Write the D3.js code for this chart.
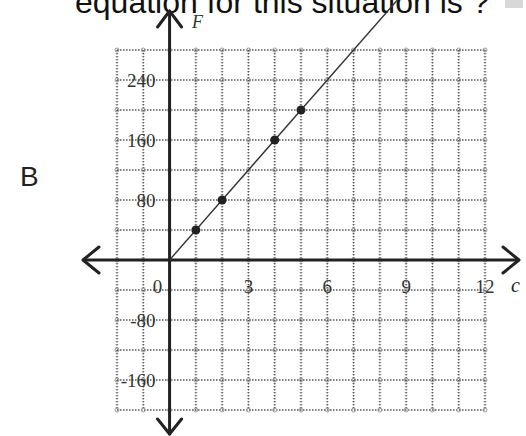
<!DOCTYPE html>
<html>
<head>
<meta charset="utf-8">
<script src="https://cdn.jsdelivr.net/npm/d3@7"></script>
<style>
  html, body { margin: 0; padding: 0; background: #fff; }
  svg { display: block; }
</style>
</head>
<body>
<script>
// Horizontal axis: c, vertical axis: F
const cTickLabels = [0, 3, 6, 9, 12];
const fTickLabels = [240, 160, 80, -80, -160];
const pointC = [1, 2, 4, 5];
const pointF = [40, 80, 160, 200];
const lineC = [0, 9];
const lineF = [0, 360];
const cGrid = d3.range(-2, 13, 1);
const fGrid = d3.range(-200, 281, 40);

const W = 526, H = 436;
const svg = d3.select("body").append("svg").attr("width", W).attr("height", H);

const x = d3.scaleLinear().domain([-2, 12]).range([117, 485]);
const y = d3.scaleLinear().domain([-200, 280]).range([410, 50]);

// heading text, cut at the top edge
svg.append("text")
  .attr("x", 75).attr("y", 13)
  .attr("font-family", "Liberation Sans, Arial, sans-serif")
  .attr("font-size", 32).attr("fill", "#111")
  .text("equation for this situation is ?");
svg.append("rect").attr("x", 505).attr("y", 0).attr("width", 18).attr("height", 8).attr("fill", "#d8d8d8");

// option letter
svg.append("text").attr("x", 20).attr("y", 186)
  .attr("font-family", "Liberation Sans, Arial, sans-serif")
  .attr("font-size", 28).attr("fill", "#222").text("B");

// grid
const grid = svg.append("g");
const x0 = x.range()[0], x1 = x.range()[1], y0 = y.range()[1], y1 = y.range()[0];
grid.selectAll("line.v").data(cGrid).join("line")
  .attr("x1", d => x(d)).attr("x2", d => x(d)).attr("y1", y0).attr("y2", y1)
  .attr("stroke", "#c4c4c4").attr("stroke-width", 3).attr("stroke-dasharray", "1 2");
grid.selectAll("line.vc").data(cGrid).join("line")
  .attr("x1", d => x(d)).attr("x2", d => x(d)).attr("y1", y0).attr("y2", y1)
  .attr("stroke", "#555").attr("stroke-width", 1.2).attr("stroke-dasharray", "1.5 1.5");
grid.selectAll("line.h").data(fGrid).join("line")
  .attr("y1", d => y(d)).attr("y2", d => y(d)).attr("x1", x0).attr("x2", x1)
  .attr("stroke", "#555").attr("stroke-width", 1.4).attr("stroke-dasharray", "1.5 1.5");
const nodes = [];
cGrid.forEach(c => fGrid.forEach(f => nodes.push([c, f])));
grid.selectAll("circle").data(nodes).join("circle")
  .attr("cx", d => x(d[0])).attr("cy", d => y(d[1])).attr("r", 2)
  .attr("fill", "none").attr("stroke", "#999").attr("stroke-width", 1);

// axes with arrowheads
const axisG = svg.append("g").attr("stroke", "#222").attr("stroke-width", 3)
  .attr("fill", "none").attr("stroke-linecap", "round").attr("stroke-linejoin", "round");
const ax0 = x(0), ay0 = y(0);
axisG.append("line").attr("x1", 84).attr("x2", 518).attr("y1", ay0).attr("y2", ay0);
axisG.append("line").attr("x1", ax0).attr("x2", ax0).attr("y1", 11).attr("y2", 434);
axisG.append("polyline").attr("points", `${503},${ay0 - 13} ${519},${ay0} ${503},${ay0 + 13}`);
axisG.append("polyline").attr("points", `${99},${ay0 - 13} ${83},${ay0} ${99},${ay0 + 13}`);
axisG.append("polyline").attr("points", `${ax0 - 12},${27} ${ax0},${11} ${ax0 + 12},${27}`);
axisG.append("polyline").attr("points", `${ax0 - 12},${419} ${ax0},${434} ${ax0 + 12},${419}`);

// tick labels
const lab = svg.append("g").attr("font-family", "Liberation Serif, Times New Roman, serif")
  .attr("font-size", 19).attr("fill", "#333");
lab.selectAll("text.x").data(cTickLabels).join("text")
  .attr("x", d => d === 0 ? ax0 - 12 : x(d)).attr("y", 293)
  .attr("text-anchor", "middle").text(d => d);
lab.selectAll("text.y").data(fTickLabels).join("text")
  .attr("x", ax0 - 14).attr("y", d => y(d) + 6.5)
  .attr("text-anchor", "end").text(d => d < 0 ? "-" + Math.abs(d) : d);

// axis names
svg.append("text").attr("x", 511).attr("y", 292)
  .attr("font-family", "Liberation Serif, serif").attr("font-style", "italic")
  .attr("font-size", 20).attr("fill", "#222").text("c");
svg.append("text").attr("x", 192).attr("y", 28)
  .attr("font-family", "Liberation Serif, serif").attr("font-style", "italic")
  .attr("font-size", 18).attr("fill", "#333").text("F");

// relation line and points
const lineData = lineC.map((c, i) => [c, lineF[i]]);
svg.append("path").datum(lineData)
  .attr("d", d3.line().x(d => x(d[0])).y(d => y(d[1])))
  .attr("stroke", "#333").attr("stroke-width", 1.4).attr("fill", "none");
svg.selectAll("circle.pt").data(pointC.map((c, i) => [c, pointF[i]])).join("circle")
  .attr("class", "pt")
  .attr("cx", d => x(d[0])).attr("cy", d => y(d[1])).attr("r", 4.5)
  .attr("fill", "#222");
</script>
</body>
</html>
